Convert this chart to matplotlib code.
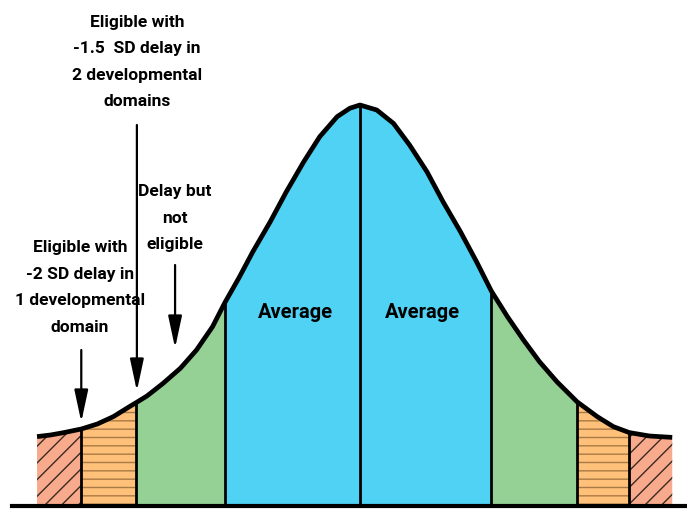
import numpy as np
import matplotlib.pyplot as plt
from matplotlib.patches import ArrowStyle

# curve: x in SD units, height as % of peak
curve_x = [-2.41, -2.31, -2.21, -2.08, -1.96, -1.84, -1.72, -1.67, -1.59,
           -1.47, -1.34, -1.22, -1.10, -1.01, -0.90, -0.80, -0.67, -0.55,
           -0.42, -0.30, -0.17, -0.075, 0.0, 0.125, 0.25, 0.37, 0.50, 0.62,
           0.75, 0.87, 0.98, 1.10, 1.22, 1.34, 1.47, 1.62, 1.77, 1.89,
           2.01, 2.16, 2.33]
curve_y = [17.1, 17.5, 18.1, 19.0, 20.25, 22.1, 24.6, 25.6, 27.25,
           30.4, 34.2, 38.75, 44.6, 50.5, 57.0, 63.3, 70.8, 78.3,
           85.8, 92.1, 97.1, 99.2, 100.0, 98.75, 95.4, 90.0, 83.3, 75.8,
           68.3, 60.8, 53.5, 47.1, 41.25, 35.8, 30.8, 25.8, 22.1, 19.6,
           18.1, 17.25, 16.9]

bounds = [-2.41, -2.08, -1.67, -1.01, 0.0, 0.98, 1.62, 2.01, 2.33]
region_colors = ['#F8AA8C', '#FFC07A', '#95D095', '#50D2F5',
                 '#50D2F5', '#95D095', '#FFC07A', '#F8AA8C']
region_hatch = ['//', '--', None, None, None, None, '--', '//']
hatch_colors = ['#3a2a22', '#a87a45', None, None, None, None, '#a87a45', '#3a2a22']

avg_x = [-0.485, 0.47]
avg_y = 48.25

notes = ['Eligible with\n-1.5  SD delay in\n2 developmental\ndomains',
         'Delay but\nnot\neligible',
         'Eligible with\n-2 SD delay in\n1 developmental\ndomain']
note_x = [-1.665, -1.38, -2.09]
note_y = [110.8, 71.7, 54.4]
arrow_x = [-1.665, -1.38, -2.08]
arrow_top = [95.0, 60.0, 38.75]
arrow_tip = [28.5, 39.25, 20.75]

plt.rcParams['hatch.linewidth'] = 1.0
font = ['Roboto', 'DejaVu Sans']

fig = plt.figure(figsize=(6.87, 5.09), dpi=100)
ax = fig.add_axes([0, 0, 1, 1])
ax.set_xlim(-360 / 134, 327 / 134)
ax.set_ylim(-1, 126.25)
ax.axis('off')

x = np.array(curve_x)
y = np.array(curve_y)
for i in range(len(bounds) - 1):
    m = (x >= bounds[i]) & (x <= bounds[i + 1])
    ax.fill_between(x[m], 0, y[m], facecolor=region_colors[i],
                    hatch=region_hatch[i],
                    edgecolor=hatch_colors[i] or 'none', linewidth=0, zorder=1)

# dividers
for b in bounds[1:-1]:
    ax.vlines(b, 0, curve_y[curve_x.index(b)], color='black', lw=2, zorder=2)

ax.plot(curve_x, curve_y, color='black', lw=3.4, solid_capstyle='butt',
        solid_joinstyle='round', zorder=3)
ax.plot([-2.6, 2.44], [-0.25, -0.25], color='black', lw=3, zorder=3)

for xa in avg_x:
    ax.text(xa, avg_y, 'Average', ha='center', va='center', fontsize=14.5,
            family=font, weight='bold')

for t, tx, ty in zip(notes, note_x, note_y):
    ax.text(tx, ty, t, ha='center', va='center', fontsize=12.5,
            family=font, weight='bold', linespacing=1.95)

style = ArrowStyle('-|>', head_length=1.4, head_width=0.3)
for xa, y0, y1 in zip(arrow_x, arrow_top, arrow_tip):
    ax.annotate('', xy=(xa, y1), xytext=(xa, y0),
                arrowprops=dict(arrowstyle=style, mutation_scale=14,
                                color='black', lw=1.6, shrinkA=0, shrinkB=0))

fig.savefig('out.png', dpi=100)
